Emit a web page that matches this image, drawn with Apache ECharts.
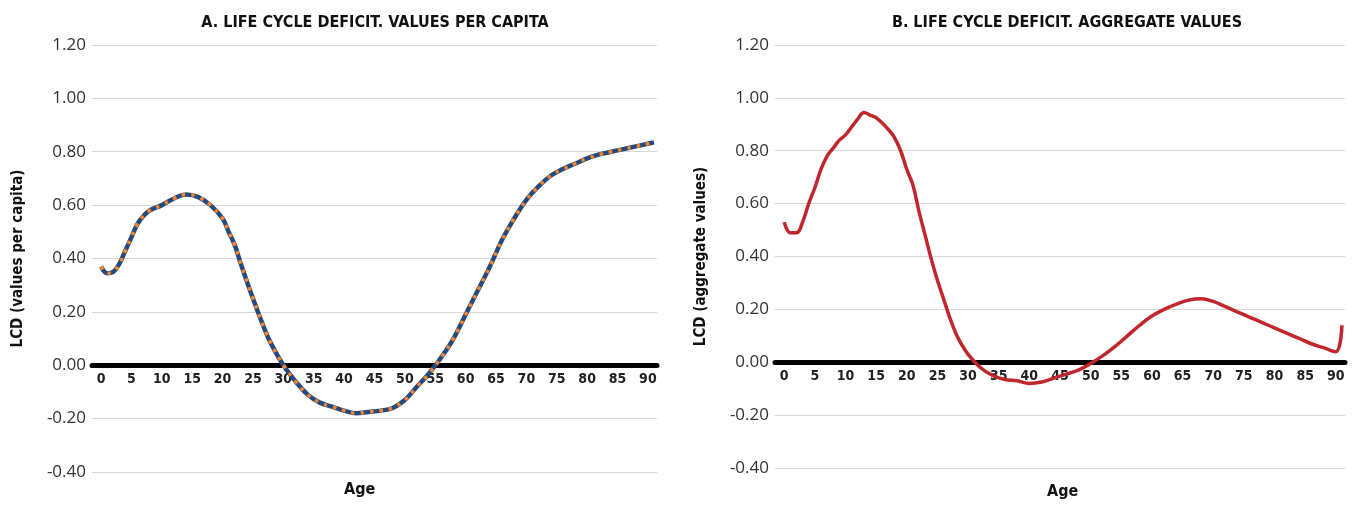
<!DOCTYPE html>
<html>
<head>
<meta charset="utf-8">
<script src="https://cdn.jsdelivr.net/npm/echarts@6/dist/echarts.min.js"></script>
<style>
  html, body { margin: 0; padding: 0; background: #fff; }
  #chart { width: 1357px; height: 506px; }
</style>
</head>
<body>
<div id="chart"></div>
<script>
const ageTicks = [0, 5, 10, 15, 20, 25, 30, 35, 40, 45, 50, 55, 60, 65, 70, 75, 80, 85, 90];

const perCapitaAges = [0, 1, 2, 3, 4, 5, 6, 7, 8, 10, 12, 14, 16, 18, 20, 21, 22, 23, 25, 27, 28, 30, 32, 34, 36, 38, 40, 42, 44, 46, 48, 50, 52, 54, 56, 58, 60, 62, 64, 66, 68, 70, 72, 74, 76, 78, 80, 82, 84, 86, 88, 90, 91];
const perCapita = [0.37, 0.345, 0.35, 0.38, 0.43, 0.48, 0.53, 0.56, 0.58, 0.60, 0.625, 0.64, 0.63, 0.60, 0.55, 0.50, 0.45, 0.38, 0.25, 0.13, 0.08, 0.00, -0.06, -0.11, -0.14, -0.155, -0.17, -0.18, -0.175, -0.17, -0.16, -0.13, -0.08, -0.03, 0.03, 0.10, 0.19, 0.28, 0.37, 0.47, 0.55, 0.62, 0.67, 0.71, 0.735, 0.755, 0.775, 0.79, 0.80, 0.81, 0.82, 0.83, 0.835];

const aggregateAges = [0, 1, 2, 3, 4, 5, 6, 7, 8, 9, 10, 11, 12, 13, 14, 15, 16, 17, 18, 19, 20, 21, 22, 23, 24, 25, 26, 27, 28, 29, 30, 32, 34, 36, 38, 40, 42, 44, 46, 48, 50, 52, 54, 56, 58, 60, 62, 64, 66, 68, 70, 72, 74, 76, 78, 80, 82, 84, 86, 88, 90, 91];
const aggregate = [0.53, 0.49, 0.49, 0.53, 0.60, 0.66, 0.73, 0.78, 0.81, 0.84, 0.86, 0.89, 0.92, 0.945, 0.935, 0.925, 0.905, 0.88, 0.85, 0.80, 0.73, 0.67, 0.57, 0.48, 0.39, 0.31, 0.24, 0.17, 0.11, 0.065, 0.03, -0.02, -0.05, -0.065, -0.07, -0.08, -0.075, -0.06, -0.045, -0.03, -0.005, 0.025, 0.06, 0.10, 0.14, 0.175, 0.20, 0.22, 0.235, 0.24, 0.23, 0.21, 0.19, 0.17, 0.15, 0.13, 0.11, 0.09, 0.07, 0.055, 0.04, 0.14];

const titles = ['A. LIFE CYCLE DEFICIT. VALUES PER CAPITA', 'B. LIFE CYCLE DEFICIT. AGGREGATE VALUES'];
const yNames = ['LCD (values per capita)', 'LCD (aggregate values)'];

const boldFont = 'DejaVu Sans Condensed';

// plot boxes; the age axis gets its own grid whose bottom edge is the zero line
const boxes = [
  { left: 92, width: 565, top: 45, height: 427 },
  { left: 775, width: 570, top: 45, height: 423 },
];

function pairs(xs, ys) {
  return xs.map((x, i) => [x, ys[i]]);
}

function ageAxis(gridIndex) {
  return {
    gridIndex,
    type: 'value',
    min: -1.5,
    max: 91.5,
    axisLine: { lineStyle: { color: '#000', width: 5 } },
    axisTick: { show: false },
    splitLine: { show: false },
    axisLabel: {
      customValues: ageTicks,
      color: '#222',
      fontFamily: boldFont,
      fontWeight: 'bold',
      fontSize: 14,
      margin: 7,
    },
  };
}

function valueAxis(gridIndex) {
  return {
    gridIndex,
    type: 'value',
    min: -0.4,
    max: 1.2,
    interval: 0.2,
    axisLine: { show: false },
    axisTick: { show: false },
    splitLine: { lineStyle: { color: '#d6d6d6', width: 1 } },
    axisLabel: {
      formatter: v => v.toFixed(2),
      color: '#333',
      fontFamily: 'Open Sans',
      fontSize: 17,
      margin: 6,
    },
    name: yNames[gridIndex],
    nameLocation: 'middle',
    nameGap: 66,
    nameTextStyle: { fontFamily: boldFont, fontWeight: 'bold', fontSize: 15, color: '#111' },
  };
}

function hiddenAxis(gridIndex) {
  return { gridIndex, type: 'value', show: false, min: 0, max: 1, splitLine: { show: false } };
}

const zeroGrids = boxes.map(b => ({ left: b.left, width: b.width, top: b.top, height: b.height * 0.75 }));

const chart = echarts.init(document.getElementById('chart'));
chart.setOption({
  animation: false,
  title: titles.map((text, i) => ({
    text,
    left: i === 0 ? 370 : 1062,
    top: 10,
    textAlign: 'center',
    textStyle: { fontFamily: boldFont, fontWeight: 'bold', fontSize: 16, color: '#111' },
  })),
  graphic: [
    { type: 'text', left: 344, top: 482, style: { text: 'Age', font: 'bold 16px "DejaVu Sans Condensed"', fill: '#111' } },
    { type: 'text', left: 1047, top: 484, style: { text: 'Age', font: 'bold 16px "DejaVu Sans Condensed"', fill: '#111' } },
  ],
  grid: [boxes[0], boxes[1], zeroGrids[0], zeroGrids[1]],
  xAxis: [
    { ...ageAxis(0), axisLine: { show: false }, axisLabel: { show: false } },
    { ...ageAxis(1), axisLine: { show: false }, axisLabel: { show: false } },
    ageAxis(2),
    ageAxis(3),
  ],
  yAxis: [valueAxis(0), valueAxis(1), hiddenAxis(2), hiddenAxis(3)],
  series: [
    {
      type: 'line', xAxisIndex: 0, yAxisIndex: 0, smooth: 0.4, showSymbol: false,
      data: pairs(perCapitaAges, perCapita),
      lineStyle: { color: '#24497e', width: 4.5 },
      z: 3,
    },
    {
      type: 'line', xAxisIndex: 0, yAxisIndex: 0, smooth: 0.4, showSymbol: false,
      data: pairs(perCapitaAges, perCapita),
      lineStyle: { color: '#f5842a', width: 3.5, type: [3.5, 6], cap: 'butt' },
      z: 4,
    },
    {
      type: 'line', xAxisIndex: 1, yAxisIndex: 1, smooth: 0.4, showSymbol: false,
      data: pairs(aggregateAges, aggregate),
      lineStyle: { color: '#c0272d', width: 3.5 },
      z: 3,
    },
  ],
});
</script>
</body>
</html>
